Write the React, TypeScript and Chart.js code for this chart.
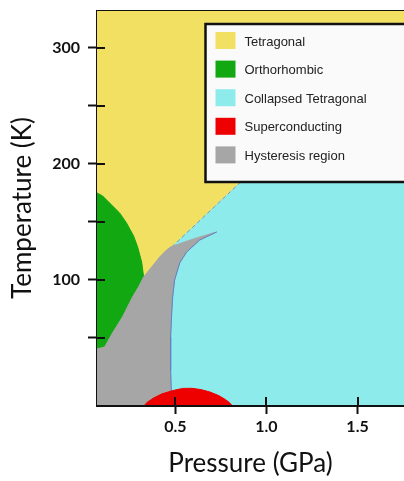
import React, { useEffect, useRef } from 'react';
import { Chart, registerables } from 'chart.js';

Chart.register(...registerables);

// ---- Legend / phases ----
const PHASES = ['Tetragonal', 'Orthorhombic', 'Collapsed Tetragonal', 'Superconducting', 'Hysteresis region'];
const PHASE_COLORS = ['#F2E063', '#12A812', '#8EEBEB', '#EE0000', '#A6A6A6'];

// ---- Axes ----
const X_TICKS = [0.5, 1.0, 1.5];
const Y_TICKS = [50, 100, 150, 200, 250, 300];
const Y_LABELED = [100, 200, 300];
const P_MIN = 0.07;
const P_MAX = 1.755;
const T_MIN = -7.8;
const T_MAX = 331.9;

// ---- Phase boundaries: [pressure (GPa), temperature (K)] ----
// Orthorhombic / tetragonal boundary (top-left dome)
const ORTHO_UPPER = [
  [0.07, 175.0], [0.101, 172.4], [0.139, 166.4], [0.194, 157.8], [0.232, 149.1],
  [0.271, 137.9], [0.293, 128.4], [0.315, 115.5], [0.326, 102.6],
];
// Orthorhombic / hysteresis boundary
const ORTHO_LOWER = [
  [0.298, 94.0], [0.265, 85.3], [0.210, 68.1], [0.155, 54.3], [0.112, 42.2], [0.07, 40.5],
];
// Hysteresis upper edge (against tetragonal), up to the tip
const HYST_TOP = [
  [0.326, 102.6], [0.370, 111.2], [0.414, 119.8], [0.452, 125.9], [0.474, 128.4],
  [0.551, 132.8], [0.634, 137.1], [0.727, 141.4],
];
// Hysteresis right edge (against collapsed tetragonal), from the tip down
const HYST_RIGHT = [
  [0.727, 141.4], [0.634, 134.5], [0.562, 124.1], [0.524, 114.7], [0.496, 100.0],
  [0.485, 85.3], [0.480, 71.6], [0.474, 50.9], [0.474, 22.4], [0.480, -7.8],
];
// Tetragonal / collapsed tetragonal line (dashed)
const COLLAPSE_LINE = [[0.480, 128.4], [0.853, 183.6], [1.755, 314.7]];
// Superconducting dome
const SC_DOME = [
  [0.331, -7.8], [0.348, -5.2], [0.381, -1.7], [0.425, 1.7], [0.485, 4.6], [0.540, 6.5],
  [0.590, 6.6], [0.640, 5.5], [0.690, 3.4], [0.735, 0.5], [0.770, -2.6], [0.795, -5.5], [0.809, -7.8],
];

const toPts = (arr: number[][]) => arr.map(([x, y]) => ({ x, y }));

const TETRA_POLY = [[P_MIN, T_MIN], [P_MIN, T_MAX], [P_MAX, T_MAX], [P_MAX, T_MIN]];
const ORTHO_POLY = [...ORTHO_UPPER, ...ORTHO_LOWER];
const HYST_POLY = [[P_MIN, 40.5], ...ORTHO_LOWER.slice().reverse(), ...HYST_TOP, ...HYST_RIGHT.slice(1), [P_MIN, T_MIN]];
const COLLAPSED_POLY = [[0.441, T_MIN], [0.441, 121.6], [0.474, 128.4], ...COLLAPSE_LINE, [P_MAX, T_MIN]];

function polygon(label: string, data: number[][], color: string, order: number) {
  return {
    label,
    data: toPts(data),
    backgroundColor: color,
    borderColor: color,
    borderWidth: 1,
    pointRadius: 0,
    fill: 'shape',
    tension: 0,
    order,
  };
}

const legendPlugin = {
  id: 'phaseLegend',
  afterDraw(chart: any) {
    const { ctx, chartArea } = chart;
    const x0 = chartArea.left + 108.5;
    const y0 = chartArea.top + 13;
    const w = chart.width - x0 + 6;
    const h = 158;
    ctx.save();
    ctx.fillStyle = '#FAFAFA';
    ctx.fillRect(x0, y0, w, h);
    ctx.lineWidth = 2.5;
    ctx.strokeStyle = '#111';
    ctx.strokeRect(x0, y0, w, h);
    ctx.font = '13px "Liberation Sans", Arial, sans-serif';
    ctx.textBaseline = 'middle';
    ctx.textAlign = 'left';
    PHASES.forEach((name, i) => {
      const cy = y0 + 16.5 + i * 28.6;
      ctx.fillStyle = PHASE_COLORS[i];
      ctx.fillRect(x0 + 10, cy - 8.5, 20, 17);
      ctx.fillStyle = '#222';
      ctx.fillText(name, x0 + 39, cy + 1.5);
    });
    ctx.restore();
  },
};

const innerTicksPlugin = {
  id: 'innerTicks',
  afterDraw(chart: any) {
    const { ctx, chartArea, scales } = chart;
    ctx.save();
    ctx.strokeStyle = '#111';
    ctx.lineWidth = 2;
    ctx.beginPath();
    scales.x.ticks.forEach((t: any) => {
      const px = Math.round(scales.x.getPixelForValue(t.value));
      ctx.moveTo(px, chartArea.bottom);
      ctx.lineTo(px, chartArea.bottom - 8);
    });
    scales.y.ticks.forEach((t: any) => {
      const py = Math.round(scales.y.getPixelForValue(t.value));
      ctx.moveTo(chartArea.left, py);
      ctx.lineTo(chartArea.left + 8, py);
    });
    ctx.stroke();
    ctx.restore();
  },
};

export default function App() {
  const canvasRef = useRef<HTMLCanvasElement | null>(null);

  useEffect(() => {
    if (!canvasRef.current) return;
    const chart = new Chart(canvasRef.current, {
      type: 'line',
      data: {
        datasets: [
          polygon(PHASES[0], TETRA_POLY, PHASE_COLORS[0], 10),
          polygon(PHASES[2], COLLAPSED_POLY, PHASE_COLORS[2], 9),
          {
            label: 'boundary',
            data: toPts(COLLAPSE_LINE),
            borderColor: '#8C96A8',
            borderWidth: 1,
            borderDash: [4, 3],
            pointRadius: 0,
            fill: false,
            order: 8,
          },
          polygon(PHASES[1], ORTHO_POLY, PHASE_COLORS[1], 7),
          polygon(PHASES[4], HYST_POLY, PHASE_COLORS[4], 6),
          {
            label: 'hysteresis edge',
            data: toPts(HYST_RIGHT),
            borderColor: '#5F84C8',
            borderWidth: 1,
            pointRadius: 0,
            fill: false,
            order: 5,
          },
          polygon(PHASES[3], SC_DOME, PHASE_COLORS[3], 4),
        ] as any,
      },
      options: {
        animation: false,
        responsive: true,
        maintainAspectRatio: false,
        events: [],
        layout: { padding: { top: 11, left: 0, right: 0, bottom: 0 } },
        plugins: { legend: { display: false }, tooltip: { enabled: false } },
        scales: {
          x: {
            type: 'linear',
            position: 'bottom',
            min: P_MIN,
            max: P_MAX,
            z: 1,
            afterBuildTicks: (a: any) => { a.ticks = X_TICKS.map((value) => ({ value })); },
            afterFit: (a: any) => { a.height = 76; a.paddingLeft = 0; a.paddingRight = 0; },
            ticks: {
              padding: 3,
              color: '#111',
              maxRotation: 0,
              autoSkip: false,
              font: { family: 'Lato', size: 16, weight: 'bold' },
              callback: (v: any) => Number(v).toFixed(1),
            },
            grid: { display: true, drawOnChartArea: false, drawTicks: true, tickLength: 9, tickWidth: 2, tickColor: '#111' },
            border: { display: true, color: '#111', width: 3 },
            title: {
              display: true,
              text: 'Pressure (GPa)',
              color: '#111',
              font: { family: 'Lato', size: 26 },
              padding: { top: 0, bottom: 2 },
            },
          },
          x2: {
            type: 'linear',
            position: 'top',
            display: true,
            min: 0,
            max: 1,
            z: 1,
            afterFit: (a: any) => { a.height = 0; a.paddingLeft = 0; a.paddingRight = 0; },
            ticks: { display: false },
            grid: { display: false, drawTicks: false },
            border: { display: true, color: '#111', width: 3 },
          },
          y: {
            type: 'linear',
            position: 'left',
            min: T_MIN,
            max: T_MAX,
            z: 1,
            afterBuildTicks: (a: any) => { a.ticks = Y_TICKS.map((value) => ({ value })); },
            afterFit: (a: any) => { a.width = 97; a.paddingTop = 0; a.paddingBottom = 0; },
            ticks: {
              padding: 8,
              color: '#111',
              autoSkip: false,
              font: { family: 'Lato', size: 16, weight: 'bold' },
              callback: (v: any) => (Y_LABELED.includes(Number(v)) ? String(v) : ''),
            },
            grid: { display: true, drawOnChartArea: false, drawTicks: true, tickLength: 9, tickWidth: 2, tickColor: '#111' },
            border: { display: true, color: '#111', width: 3 },
            title: {
              display: true,
              text: 'Temperature (K)',
              color: '#111',
              font: { family: 'Lato', size: 26 },
              padding: { top: 7, bottom: 0 },
            },
          },
        },
      } as any,
      plugins: [innerTicksPlugin, legendPlugin],
    });
    return () => chart.destroy();
  }, []);

  return (
    <div style={{ position: 'fixed', left: 0, top: 0, width: 404, height: 481, background: '#fff' }}>
      <canvas ref={canvasRef} />
    </div>
  );
}
